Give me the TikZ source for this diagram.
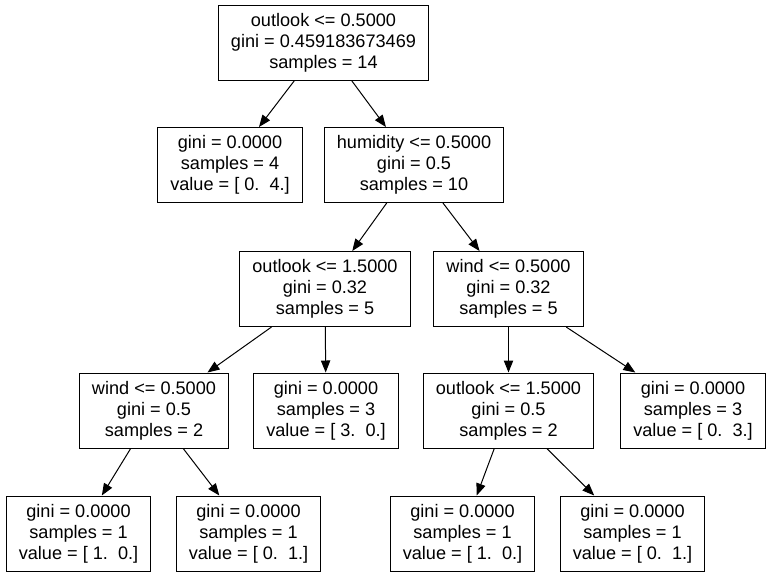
\documentclass[tikz,border=0pt]{standalone}
\usepackage{fontspec}
\setmainfont{Liberation Sans}
\usetikzlibrary{arrows.meta}

\tikzset{
  treebox/.style={draw, line width=0.75pt, align=center, inner xsep=9.4pt,
    minimum height=56.25pt, font=\fontsize{13.6}{15.75}\selectfont},
  treearrow/.style={line width=0.75pt, -{Triangle[length=9pt,width=7pt]}}
}

\begin{document}
\begin{tikzpicture}[x=0.75pt,y=0.75pt,yscale=-1,xscale=1]
\useasboundingbox (0,0) rectangle (769,576);

% Text Node
\node[treebox] (root) at (323.5,42.5) {outlook <= 0.5000\\gini = 0.459183673469\\samples = 14};
% Text Node
\node[treebox] (leafFour) at (230,165) {gini = 0.0000\\samples = 4\\value = [\ 0.\ \ 4.]};
% Text Node
\node[treebox] (humidity) at (414,165) {humidity <= 0.5000\\gini = 0.5\\samples = 10};
% Text Node
\node[treebox] (outlookA) at (325,289) {outlook <= 1.5000\\gini = 0.32\\samples = 5};
% Text Node
\node[treebox] (windA) at (508.5,289) {wind <= 0.5000\\gini = 0.32\\samples = 5};
% Text Node
\node[treebox] (windB) at (154,410.5) {wind <= 0.5000\\gini = 0.5\\samples = 2};
% Text Node
\node[treebox] (leafThreeA) at (326,410.5) {gini = 0.0000\\samples = 3\\value = [\ 3.\ \ 0.]};
% Text Node
\node[treebox] (outlookB) at (508.5,410.5) {outlook <= 1.5000\\gini = 0.5\\samples = 2};
% Text Node
\node[treebox] (leafThreeB) at (693,410.5) {gini = 0.0000\\samples = 3\\value = [\ 0.\ \ 3.]};
% Text Node
\node[treebox] (leafOneA) at (78.5,533.5) {gini = 0.0000\\samples = 1\\value = [\ 1.\ \ 0.]};
% Text Node
\node[treebox] (leafOneB) at (248.5,533.5) {gini = 0.0000\\samples = 1\\value = [\ 0.\ \ 1.]};
% Text Node
\node[treebox] (leafOneC) at (462.5,533.5) {gini = 0.0000\\samples = 1\\value = [\ 1.\ \ 0.]};
% Text Node
\node[treebox] (leafOneD) at (632.5,533.5) {gini = 0.0000\\samples = 1\\value = [\ 0.\ \ 1.]};

%Straight Lines
\draw[treearrow] (root) -- (leafFour);
\draw[treearrow] (root) -- (humidity);
%Straight Lines
\draw[treearrow] (humidity) -- (outlookA);
\draw[treearrow] (humidity) -- (windA);
%Straight Lines
\draw[treearrow] (outlookA) -- (windB);
\draw[treearrow] (outlookA) -- (leafThreeA);
\draw[treearrow] (windA) -- (outlookB);
\draw[treearrow] (windA) -- (leafThreeB);
%Straight Lines
\draw[treearrow] (windB) -- (leafOneA);
\draw[treearrow] (windB) -- (leafOneB);
\draw[treearrow] (outlookB) -- (leafOneC);
\draw[treearrow] (outlookB) -- (leafOneD);

\end{tikzpicture}
\end{document}
